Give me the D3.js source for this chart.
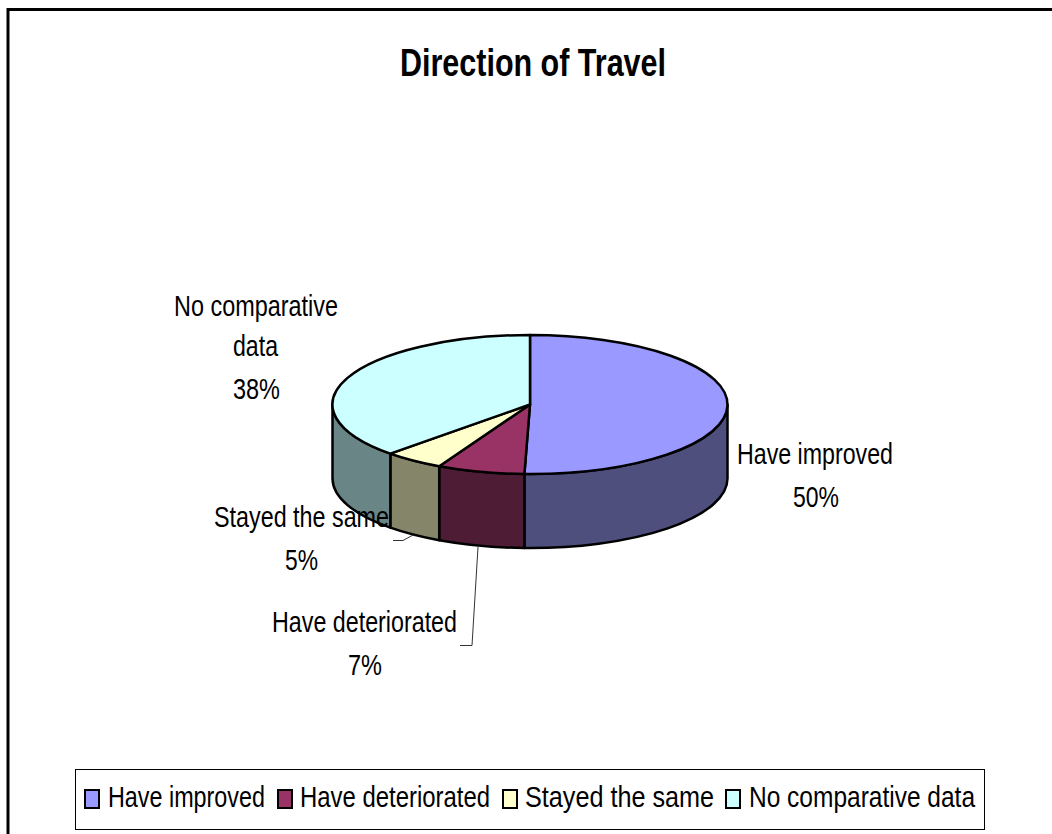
<!DOCTYPE html>
<html>
<head>
<meta charset="utf-8">
<script src="https://cdn.jsdelivr.net/npm/d3@7"></script>
<style>
html,body{margin:0;padding:0;background:#fff;}
text{font-family:"Liberation Sans",Arial,sans-serif;fill:#000;}
</style>
</head>
<body>
<script>
var svg_width=1052;
var svg_height=834;

var categories=["Have improved","Have deteriorated","Stayed the same","No comparative data"];
var shares=[50.45,7.15,4.9,37.5];
var top_colors=["#9999ff","#993366","#ffffcc","#ccffff"];
var side_colors=["#4f4f7e","#4f1c35","#85856a","#6a8585"];

var svg=d3.select("body")
    .append("svg")
    .attr("width",svg_width)
    .attr("height",svg_height)
    .style("display","block");

// frame, cut off at the right and bottom of the picture
svg.append("path")
    .attr("d","M8,834V9.5H1052")
    .attr("fill","none")
    .attr("stroke","#000")
    .attr("stroke-width",3);

function label(txt,x,y,size,len,weight){
    svg.append("text")
        .text(txt)
        .attr("x",x)
        .attr("y",y)
        .attr("text-anchor","middle")
        .attr("font-size",size)
        .attr("font-weight",weight||"normal")
        .attr("textLength",len)
        .attr("lengthAdjust","spacingAndGlyphs");
}

label("Direction of Travel",533,76,38,266,"bold");

// pie, flattened to an ellipse
var cx=530,cy=404.5,rx=197.5,ry=69.5,depth=74;
var pie=d3.pie().sort(null).value(function(d){return d;});
var arcs=pie(shares);

function px(a){return cx+rx*Math.sin(a);}
function py(a){return cy-ry*Math.cos(a);}

function sidePath(a0,a1){
    return "M"+px(a0)+","+py(a0)
        +"A"+rx+","+ry+" 0 0 1 "+px(a1)+","+py(a1)
        +"L"+px(a1)+","+(py(a1)+depth)
        +"A"+rx+","+ry+" 0 0 0 "+px(a0)+","+(py(a0)+depth)+"Z";
}

// only the front half of the rim shows
var rim=arcs.map(function(d,i){
    return {a0:Math.max(d.startAngle,Math.PI/2),a1:Math.min(d.endAngle,Math.PI*1.5),i:i};
}).filter(function(d){return d.a1>d.a0;});

svg.selectAll("path.side")
    .data(rim)
    .enter()
    .append("path")
    .attr("class","side")
    .attr("d",function(d){return sidePath(d.a0,d.a1);})
    .attr("fill",function(d){return side_colors[d.i];})
    .attr("stroke","#000")
    .attr("stroke-width",2.5)
    .attr("stroke-linejoin","round");

svg.selectAll("path.slice")
    .data(arcs)
    .enter()
    .append("path")
    .attr("class","slice")
    .attr("d",function(d){
        var large=(d.endAngle-d.startAngle)>Math.PI?1:0;
        return "M"+cx+","+cy
            +"L"+px(d.startAngle)+","+py(d.startAngle)
            +"A"+rx+","+ry+" 0 "+large+" 1 "+px(d.endAngle)+","+py(d.endAngle)+"Z";
    })
    .attr("fill",function(d,i){return top_colors[i];})
    .attr("stroke","#000")
    .attr("stroke-width",2.5)
    .attr("stroke-linejoin","round");

// leader lines
svg.append("path")
    .attr("d","M393,540.5H403L413,535")
    .attr("fill","none").attr("stroke","#333").attr("stroke-width",1);
svg.append("path")
    .attr("d","M478,547L472,645.5H460")
    .attr("fill","none").attr("stroke","#333").attr("stroke-width",1);

// data labels
function pct(v){return Math.round(v)+"%";}
label("No comparative",256,316,30,164);
label("data",255.5,356,30,45);
label(pct(shares[3]),256.5,399,30,47);
label("Have improved",815,464,30,156);
label(pct(shares[0]),816,507,30,46);
label("Stayed the same",301.5,527,30,175);
label(pct(shares[2]),301.5,570,30,33);
label("Have deteriorated",364.5,632,30,185);
label(pct(shares[1]),365,675,30,34);

// legend
svg.append("rect")
    .attr("x",75.5).attr("y",769.5)
    .attr("width",909).attr("height",60)
    .attr("fill","#fff").attr("stroke","#000").attr("stroke-width",1);

var legend_key=d3.scaleOrdinal().domain(categories).range([85,278,503,726]);
var legend_text=d3.scaleOrdinal().domain(categories).range([186.5,395,619.5,862]);
var legend_len=d3.scaleOrdinal().domain(categories).range([157,190,189,226]);

svg.selectAll("rect.key")
    .data(categories)
    .enter()
    .append("rect")
    .attr("class","key")
    .attr("x",function(d){return legend_key(d);})
    .attr("y",790)
    .attr("width",14)
    .attr("height",18)
    .attr("fill",function(d,i){return top_colors[i];})
    .attr("stroke","#000")
    .attr("stroke-width",2);

categories.forEach(function(d){
    label(d,legend_text(d),807,30,legend_len(d));
});
</script>
</body>
</html>
